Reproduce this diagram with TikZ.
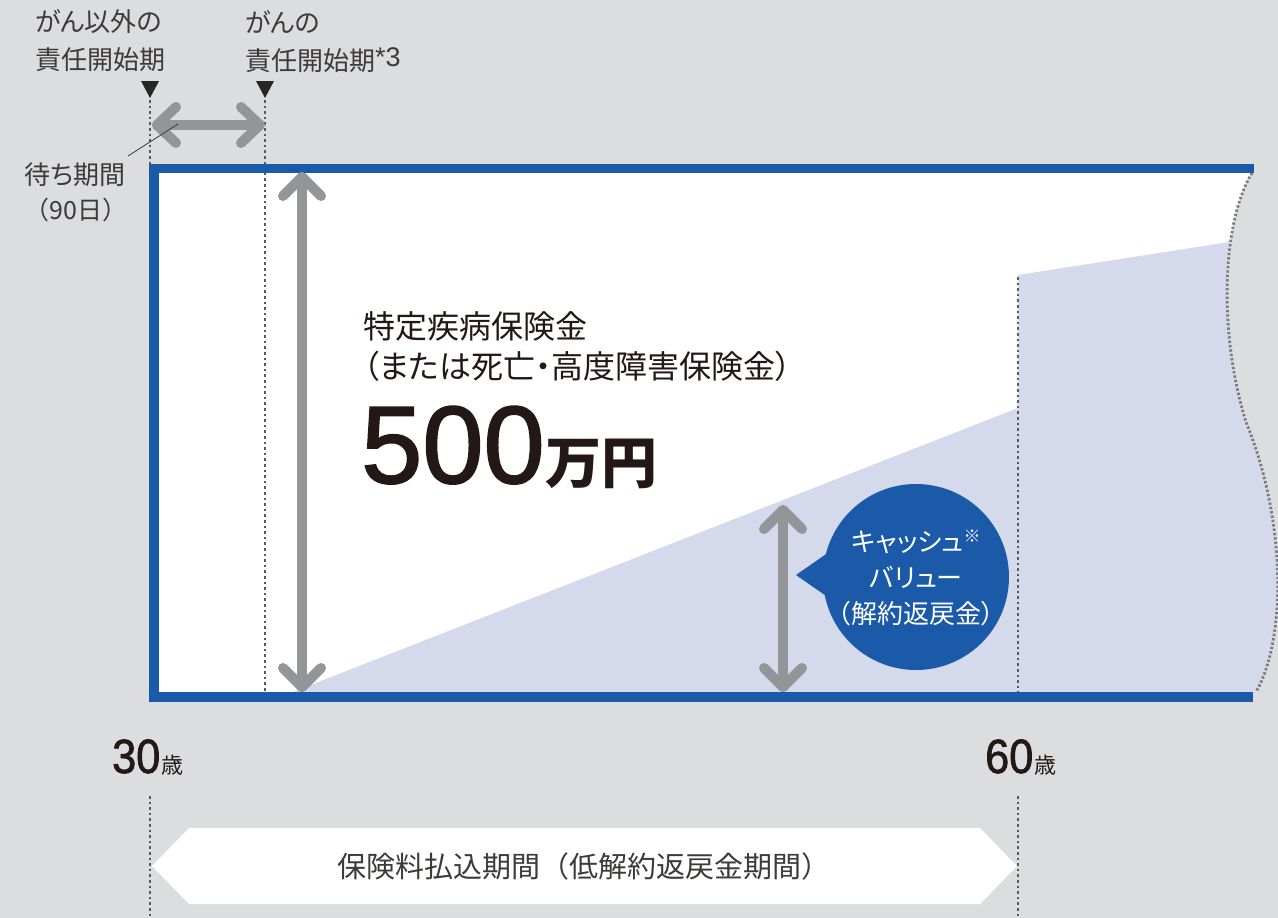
\documentclass[tikz,border=0pt]{standalone}
\usepackage{fontspec}
\usepackage{graphicx}
\usetikzlibrary{calc}
\setmainfont{Noto Sans CJK JP}
\newfontfamily\jp[RawFeature=+palt]{Noto Sans CJK JP}
\newfontfamily\lat{Liberation Sans}
\newfontfamily\latm[FakeBold=1.6]{Liberation Sans}
\definecolor{bg}{HTML}{DCDDDF}
\definecolor{frameblue}{HTML}{1A5AA8}
\definecolor{lav}{HTML}{D5D9EC}
\definecolor{arrowgray}{HTML}{939598}
\definecolor{txt}{HTML}{231815}
\definecolor{lbl}{HTML}{3E3A39}
\definecolor{dotgray}{HTML}{7C7C7E}
\tikzset{
  garrow/.style={draw=arrowgray, line width=10pt, line cap=round, line join=round},
  vdot/.style={draw=lbl!85, line width=1.1pt, dash pattern=on 2.6pt off 3pt},
  lbltext/.style={inner sep=0pt, text=lbl, font=\jp\fontsize{26}{30}\selectfont},
  bodytext/.style={inner sep=0pt, text=txt, font=\jp\fontsize{32}{36}\selectfont},
  marker/.style={fill=black!85},
}
\begin{document}
\begin{tikzpicture}[x=1pt,y=-1pt]
\fill[bg] (0,0) rectangle (1278,918);
\useasboundingbox (0,0) rectangle (1278,918);

% white area
\fill[white] (154,168) -- (1252,168) -- (1252,173) .. controls (1222,222) and (1218,332) .. (1246,422) .. controls (1287,522) and (1286,640) .. (1256,692) -- (1256,697) -- (154,697) -- cycle;
% lavender cash value area
\begin{scope}
\clip (154,168) -- (1252,168) -- (1252,173) .. controls (1222,222) and (1218,332) .. (1246,422) .. controls (1287,522) and (1286,640) .. (1256,692) -- (1256,697) -- (154,697) -- cycle;
\fill[lav] (280,697) -- (1018,408) -- (1018,275) -- (1300,231) -- (1300,700) -- cycle;
\end{scope}
% wavy dotted edge
\draw[dotgray, line width=2.8pt, dash pattern=on 2.4pt off 2pt] (1252,173) .. controls (1222,222) and (1218,332) .. (1246,422) .. controls (1287,522) and (1286,640) .. (1256,692);

% dotted guide lines
\coordinate (g1t) at (150,100);
\coordinate (g1b) at (150,164);
\coordinate (g2t) at (265,100);
\coordinate (g2b) at (265,693);
\coordinate (g3t) at (1018,277);
\coordinate (g3b) at (1018,693);
\coordinate (g4t) at (150,796);
\coordinate (g4b) at (150,918);
\coordinate (g5t) at (1018,796);
\coordinate (g5b) at (1018,918);
\draw[vdot] (g1t) -- (g1b);
\draw[vdot] (g2t) -- (g2b);
\draw[vdot] (g3t) -- (g3b);
\draw[vdot] (g4t) -- (g4b);
\draw[vdot] (g5t) -- (g5b);

% blue frame
\draw[frameblue, line width=9.5pt] (1254,168.5) -- (154,168.5) -- (154,697) -- (1253,697);

% markers
\fill[marker] (141,81) -- (159,81) -- (150,98) -- cycle;
\fill[marker] (256,81) -- (274,81) -- (265,98) -- cycle;

% top labels
\node[lbltext, anchor=west] (l1a) at (35,22) {がん以外の};
\node[lbltext, anchor=west] (l1b) at (35,60) {責任開始期};
\node[lbltext, anchor=west] (l2a) at (245,22) {がんの};
\node[lbltext, anchor=west] (l2b) at (245,60) {責任開始期\raisebox{4pt}{\lat\fontsize{27}{27}\selectfont *3}};
\node[lbltext] (w1) at (75,175) {待ち期間};
\node[inner sep=0pt, text=lbl, font=\fontsize{25}{30}\selectfont] (w2) at (76,210) {（90日）};

% waiting-period arrow
\coordinate (hA) at (157,125);
\coordinate (hB) at (260,125);
\draw[garrow] (hA) -- (hB);
\draw[garrow] ($(hA)+(19,-18)$) -- (hA) -- ($(hA)+(19,18)$);
\draw[garrow] ($(hB)+(-19,-18)$) -- (hB) -- ($(hB)+(-19,18)$);
\coordinate (leadA) at (178,124);
\coordinate (leadB) at (128,156);
\draw[lbl, line width=0.8pt] (leadA) -- (leadB);

% benefit arrow
\coordinate (vA) at (302,177);
\coordinate (vB) at (302,687);
\draw[garrow] (vA) -- (vB);
\draw[garrow] ($(vA)+(-19,19)$) -- (vA) -- ($(vA)+(19,19)$);
\draw[garrow] ($(vB)+(-19,-19)$) -- (vB) -- ($(vB)+(19,-19)$);

% cash value arrow
\coordinate (cA) at (783,510);
\coordinate (cB) at (783,687);
\draw[garrow] (cA) -- (cB);
\draw[garrow] ($(cA)+(-19,19)$) -- (cA) -- ($(cA)+(19,19)$);
\draw[garrow] ($(cB)+(-19,-19)$) -- (cB) -- ($(cB)+(19,-19)$);

% main texts
\node[bodytext, anchor=west] (t1) at (363,326) {特定疾病保険金};
\node[bodytext, anchor=west] (t2) at (363,366) {（または死亡・高度障害保険金）};
\node[inner sep=0pt, text=txt, anchor=base west, font=\latm\fontsize{110}{110}\selectfont] (t3) at (361,483) {500};
\node[inner sep=0pt, text=txt, anchor=base west, font=\jp\bfseries\fontsize{56}{56}\selectfont] (t4) at (t3.base east) {万円};

% bubble
\node[circle, fill=frameblue, minimum size=186pt, inner sep=0pt] (bubble) at (916,577) {};
\fill[frameblue] (796,575) -- (842,543) -- (842,607) -- cycle;
\node[inner sep=0pt, text=white, align=center, font=\jp\fontsize{26}{36}\selectfont] (btext) at (916,578) {キャッシュ\raisebox{9pt}{\fontsize{17}{17}\selectfont ※}\\バリュー\\（解約返戻金）};

% ages
\node[inner sep=0pt, text=txt, anchor=base west] (a30) at (112,773) {\scalebox{0.9}[1]{\latm\fontsize{48}{48}\selectfont 30}\kern1pt{\fontsize{22}{22}\selectfont 歳}};
\node[inner sep=0pt, text=txt, anchor=base west] (a60) at (985,773) {\scalebox{0.9}[1]{\latm\fontsize{48}{48}\selectfont 60}\kern1pt{\fontsize{22}{22}\selectfont 歳}};

% premium payment period banner
\fill[white] (152,866) -- (189,828) -- (980,828) -- (1017,866) -- (980,904) -- (189,904) -- cycle;
\node[inner sep=0pt, text=lbl, font=\fontsize{29}{32}\selectfont] (banner) at (584,866) {保険料払込期間（低解約返戻金期間）};
\end{tikzpicture}
\end{document}
